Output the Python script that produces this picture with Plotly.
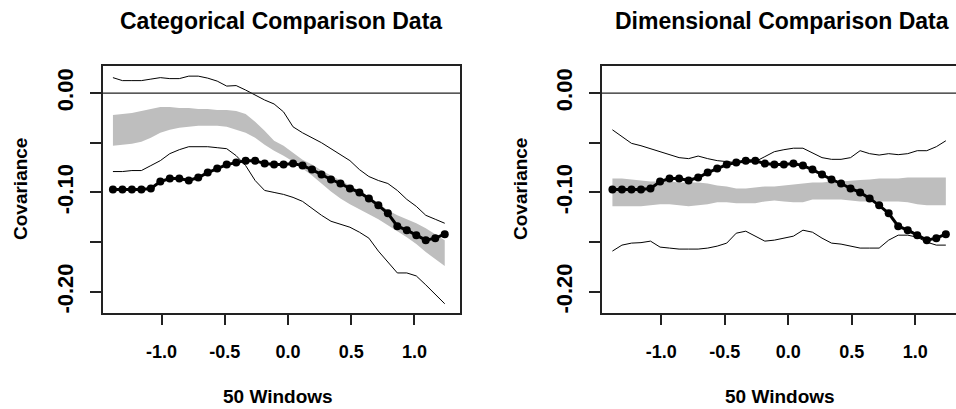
import plotly.graph_objects as go

# ---- data ----
x_windows = [-1.385, -1.31, -1.235, -1.16, -1.085, -1.01, -0.935, -0.86, -0.785, -0.71,
             -0.635, -0.56, -0.485, -0.41, -0.335, -0.26, -0.185, -0.11, -0.035, 0.04,
             0.115, 0.19, 0.265, 0.34, 0.415, 0.49, 0.565, 0.64, 0.715, 0.79,
             0.865, 0.94, 1.015, 1.09, 1.165, 1.24]

observed = [-0.097, -0.097, -0.097, -0.097, -0.096, -0.089, -0.086, -0.086, -0.088, -0.085,
            -0.080, -0.076, -0.072, -0.070, -0.068, -0.068, -0.071, -0.072, -0.072, -0.071,
            -0.073, -0.077, -0.082, -0.087, -0.091, -0.096, -0.100, -0.106, -0.113, -0.121,
            -0.134, -0.138, -0.143, -0.148, -0.146, -0.142]

# Categorical panel
cat_band_upper = [-0.022, -0.021, -0.020, -0.018, -0.016, -0.014, -0.014, -0.015, -0.015, -0.016,
                  -0.016, -0.017, -0.017, -0.018, -0.021, -0.029, -0.038, -0.048, -0.053, -0.060,
                  -0.067, -0.072, -0.078, -0.083, -0.088, -0.093, -0.098, -0.104, -0.111, -0.118,
                  -0.123, -0.127, -0.131, -0.136, -0.142, -0.148]
cat_band_lower = [-0.053, -0.052, -0.051, -0.049, -0.045, -0.040, -0.037, -0.035, -0.034, -0.033,
                  -0.033, -0.033, -0.034, -0.037, -0.040, -0.045, -0.052, -0.058, -0.063, -0.069,
                  -0.076, -0.083, -0.091, -0.099, -0.106, -0.112, -0.117, -0.122, -0.127, -0.133,
                  -0.139, -0.145, -0.152, -0.160, -0.167, -0.174]
cat_upper = [0.0155, 0.0125, 0.0125, 0.0125, 0.014, 0.0155, 0.0145, 0.0145, 0.017, 0.017,
             0.015, 0.012, 0.007, 0.0075, 0.003, -0.002, -0.007, -0.011, -0.019, -0.034,
             -0.040, -0.045, -0.050, -0.056, -0.062, -0.068, -0.077, -0.084, -0.088, -0.091,
             -0.098, -0.107, -0.114, -0.123, -0.127, -0.131]
cat_lower = [-0.079, -0.079, -0.078, -0.078, -0.073, -0.068, -0.061, -0.057, -0.054, -0.054,
             -0.054, -0.055, -0.056, -0.063, -0.073, -0.088, -0.098, -0.100, -0.102, -0.105,
             -0.109, -0.116, -0.123, -0.129, -0.132, -0.135, -0.140, -0.146, -0.159, -0.170,
             -0.181, -0.181, -0.184, -0.193, -0.203, -0.212]

# Dimensional panel
dim_band_upper = [-0.086, -0.086, -0.087, -0.088, -0.089, -0.089, -0.089, -0.090, -0.090, -0.090,
                  -0.091, -0.093, -0.094, -0.096, -0.096, -0.095, -0.094, -0.094, -0.093, -0.092,
                  -0.091, -0.090, -0.090, -0.089, -0.089, -0.088, -0.0875, -0.087, -0.086, -0.086,
                  -0.086, -0.085, -0.085, -0.085, -0.085, -0.085]
dim_band_lower = [-0.114, -0.114, -0.114, -0.114, -0.113, -0.112, -0.112, -0.113, -0.114, -0.113,
                  -0.112, -0.110, -0.110, -0.111, -0.111, -0.111, -0.109, -0.108, -0.109, -0.110,
                  -0.110, -0.107, -0.107, -0.107, -0.107, -0.108, -0.109, -0.109, -0.109, -0.109,
                  -0.109, -0.110, -0.112, -0.113, -0.113, -0.113]
dim_upper = [-0.037, -0.044, -0.0506, -0.053, -0.056, -0.059, -0.062, -0.065, -0.066, -0.0634,
             -0.066, -0.068, -0.069, -0.070, -0.070, -0.069, -0.064, -0.059, -0.057, -0.0555,
             -0.0555, -0.060, -0.065, -0.0667, -0.0667, -0.065, -0.058, -0.061, -0.0624, -0.061,
             -0.062, -0.061, -0.058, -0.058, -0.054, -0.048]
dim_lower = [-0.159, -0.153, -0.151, -0.1505, -0.149, -0.155, -0.156, -0.157, -0.157, -0.157,
             -0.156, -0.154, -0.151, -0.141, -0.139, -0.144, -0.149, -0.148, -0.146, -0.144,
             -0.138, -0.140, -0.146, -0.151, -0.152, -0.154, -0.156, -0.156, -0.156, -0.148,
             -0.143, -0.143, -0.145, -0.150, -0.153, -0.153]

titles = ["Categorical Comparison Data", "Dimensional Comparison Data"]
x_label = "50 Windows"
y_label = "Covariance"
x_tickvals = [-1.0, -0.5, 0.0, 0.5, 1.0]
x_ticktext = ["-1.0", "-0.5", "0.0", "0.5", "1.0"]
y_tickvals = [0.0, -0.05, -0.10, -0.15, -0.20]
y_ticktext = ["0.00", "", "-0.10", "", "-0.20"]

FONT = "Liberation Sans, Arial, sans-serif"
BAND = "#BEBEBE"

fig = go.Figure()

panels = [
    ("x", "y", cat_band_upper, cat_band_lower, cat_upper, cat_lower),
    ("x2", "y2", dim_band_upper, dim_band_lower, dim_upper, dim_lower),
]
for xa, ya, bu, bl, up, lo in panels:
    fig.add_trace(go.Scatter(x=x_windows + x_windows[::-1], y=bu + bl[::-1],
                             fill="toself", fillcolor=BAND, line=dict(width=0),
                             mode="lines", hoverinfo="skip", xaxis=xa, yaxis=ya,
                             showlegend=False))
    fig.add_trace(go.Scatter(x=x_windows, y=up, mode="lines",
                             line=dict(color="black", width=1), xaxis=xa, yaxis=ya,
                             showlegend=False))
    fig.add_trace(go.Scatter(x=x_windows, y=lo, mode="lines",
                             line=dict(color="black", width=1), xaxis=xa, yaxis=ya,
                             showlegend=False))
    fig.add_trace(go.Scatter(x=x_windows, y=observed, mode="lines+markers",
                             line=dict(color="black", width=3),
                             marker=dict(color="black", size=8),
                             xaxis=xa, yaxis=ya, showlegend=False))

for xd in ["x domain", "x2 domain"]:
    yr = "y" if xd == "x domain" else "y2"
    fig.add_shape(type="line", xref=xd, yref=yr, x0=0, x1=1, y0=0, y1=0,
                  line=dict(color="#222", width=1.3), layer="above")

yd = [1 - 313 / 409, 1 - 66 / 409]
axis_common = dict(showgrid=False, zeroline=False, showline=True, linecolor="#222",
                   linewidth=1.5, ticks="outside", tickcolor="#222", tickwidth=1.5)
xfont = dict(family=FONT, size=18, color="black", weight="bold")
yfont = dict(family=FONT, size=22, color="black", weight="bold")

fig.update_layout(
    width=956, height=409, margin=dict(l=0, r=0, t=0, b=0),
    paper_bgcolor="white", plot_bgcolor="white", showlegend=False,
    xaxis=dict(domain=[103 / 956, 460 / 956], range=[-1.4636, 1.3608], mirror=True,
               tickvals=x_tickvals, ticktext=x_ticktext, ticklen=10, tickfont=xfont,
               ticklabelstandoff=12, anchor="y", **axis_common),
    yaxis=dict(domain=yd, range=[-0.2213, 0.0272], mirror=True,
               tickvals=y_tickvals, ticktext=y_ticktext, ticklen=11, tickfont=yfont,
               tickangle=-90, ticklabelstandoff=8, anchor="x", **axis_common),
    xaxis2=dict(domain=[602 / 956, 1.0], range=[-1.467, 1.320], mirror=True,
                tickvals=x_tickvals, ticktext=x_ticktext, ticklen=10, tickfont=xfont,
                ticklabelstandoff=12, anchor="y2", **axis_common),
    yaxis2=dict(domain=yd, range=[-0.2213, 0.0272], mirror=False,
                tickvals=y_tickvals, ticktext=y_ticktext, ticklen=11, tickfont=yfont,
                tickangle=-90, ticklabelstandoff=8, anchor="x2", **axis_common),
)

ann_font_title = dict(family=FONT, size=23, color="black", weight="bold")
ann_font_lab = dict(family=FONT, size=19, color="black", weight="bold")
for cx, title in zip([281 / 956, 782 / 956], titles):
    fig.add_annotation(text=title, x=cx, y=1 - 21 / 409, xref="paper", yref="paper",
                       showarrow=False, xanchor="center", yanchor="middle", font=ann_font_title)
for cx in [278 / 956, 780 / 956]:
    fig.add_annotation(text=x_label, x=cx, y=1 - 396 / 409, xref="paper", yref="paper",
                       showarrow=False, xanchor="center", yanchor="middle", font=ann_font_lab)
for cx in [21 / 956, 521 / 956]:
    fig.add_annotation(text=y_label, x=cx, y=1 - 189 / 409, xref="paper", yref="paper",
                       showarrow=False, xanchor="center", yanchor="middle", textangle=-90,
                       font=ann_font_lab)

fig.write_html("out.html")
